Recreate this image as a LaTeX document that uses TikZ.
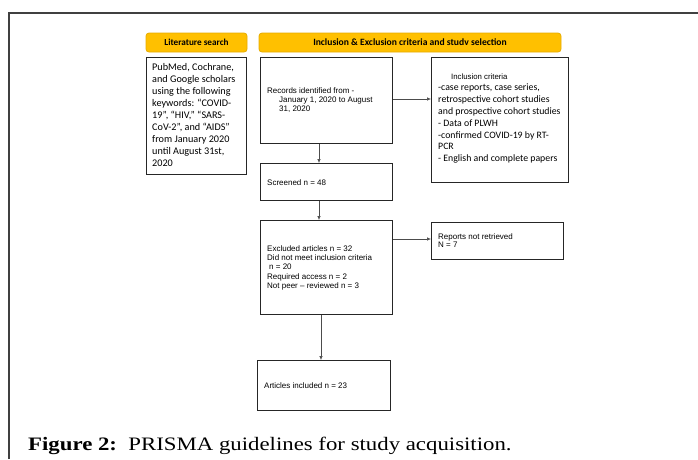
\documentclass[tikz,border=0pt]{standalone}
\usepackage{fontspec}
\setmainfont{Liberation Serif}
\newfontfamily\capfont[FakeStretch=1.2]{Liberation Serif}
\newfontfamily\carl{Carlito}
\newfontfamily\ari{Liberation Sans}
\usetikzlibrary{arrows.meta}
\definecolor{gold}{HTML}{FFC000}
\definecolor{goldline}{HTML}{E6AC00}
\definecolor{frame}{HTML}{404040}
\tikzset{
  box/.style={draw=black!85, line width=0.9pt, anchor=north west, inner sep=0pt},
  head/.style={draw=goldline, fill=gold, rounded corners=3pt, line width=0.8pt},
  txt/.style={anchor=north west, inner sep=0pt, align=left},
  arr/.style={draw=black!70, line width=0.6pt, -{Latex[length=4pt,width=3.5pt]}},
}
\begin{document}
\begin{tikzpicture}[x=1pt,y=-1pt]
\useasboundingbox (0,0) rectangle (698,459);
\draw[frame, line width=1.1pt] (9,459) -- (9,13) -- (698,13);
% headers
\draw[head] (146,33) rectangle (247,52);
\node[font=\carl\bfseries\fontsize{9.2}{10}\selectfont] (hl) at (196.5,42) {Literature search};
\draw[head] (259,33) rectangle (561,52);
\node[font=\carl\bfseries\fontsize{9.6}{10}\selectfont] (hi) at (410,42.5) {Inclusion \& Exclusion criteria and studv selection};
% boxes
\node[box, minimum width=100pt, minimum height=117pt] (lit) at (146,57) {};
\node[txt, font=\carl\fontsize{10.2}{12}\selectfont] (littxt) at (152,63) {PubMed, Cochrane,\\and Google scholars\\using the following\\keywords: “COVID-\\19”, “HIV,” “SARS-\\CoV-2”, and “AIDS”\\from January 2020\\until August 31st,\\2020};
\node[box, minimum width=132pt, minimum height=86pt] (rec) at (260,57) {};
\node[txt, font=\ari\fontsize{8}{9}\selectfont] (rectxt) at (267,87.5) {Records identified from -\\\hspace*{12pt}January 1, 2020 to August\\\hspace*{12pt}31, 2020};
\node[box, minimum width=137pt, minimum height=125pt] (inc) at (431,57) {};
\node[txt, font=\ari\fontsize{7.8}{9}\selectfont] (inchead) at (451,74) {Inclusion criteria};
\node[txt, font=\carl\fontsize{9.8}{11.8}\selectfont] (inctxt) at (438,84) {-case reports, case series,\\retrospective cohort studies\\and prospective cohort studies\\- Data of PLWH\\-confirmed COVID-19 by RT-\\PCR\\- English and complete papers};
\node[box, minimum width=132pt, minimum height=37pt] (scr) at (260,163) {};
\node[txt, font=\ari\fontsize{8}{9}\selectfont] (scrtxt) at (267,179) {Screened n = 48};
\node[box, minimum width=132pt, minimum height=94pt] (exc) at (260,220) {};
\node[txt, font=\ari\fontsize{8}{9.2}\selectfont] (exctxt) at (267,245.5) {Excluded articles n = 32\\Did not meet inclusion criteria\\\hspace*{2pt}n = 20\\Required access n = 2\\Not peer – reviewed n = 3};
\node[box, minimum width=132pt, minimum height=37pt] (rep) at (431,222) {};
\node[txt, font=\ari\fontsize{8}{8.6}\selectfont] (reptxt) at (438,233) {Reports not retrieved\\N = 7};
\node[box, minimum width=133pt, minimum height=50pt] (art) at (257,360) {};
\node[txt, font=\ari\fontsize{8}{9}\selectfont] (arttxt) at (264,382.5) {Articles included n = 23};
% arrows
\draw[arr] (rec.east |- 0,99) -- (inc.west |- 0,99);
\draw[arr] (rec.south -| 319,0) -- (scr.north -| 319,0);
\draw[arr] (scr.south -| 319,0) -- (exc.north -| 319,0);
\draw[arr] (exc.east |- 0,239) -- (rep.west |- 0,239);
\draw[arr] (exc.south -| 321,0) -- (art.north -| 321,0);
% caption
\node[anchor=base west, inner sep=0pt, font=\capfont\fontsize{19}{22}\selectfont] (cap) at (28,450) {\textbf{Figure 2:}\ \ PRISMA guidelines for study acquisition.};
\end{tikzpicture}
\end{document}
